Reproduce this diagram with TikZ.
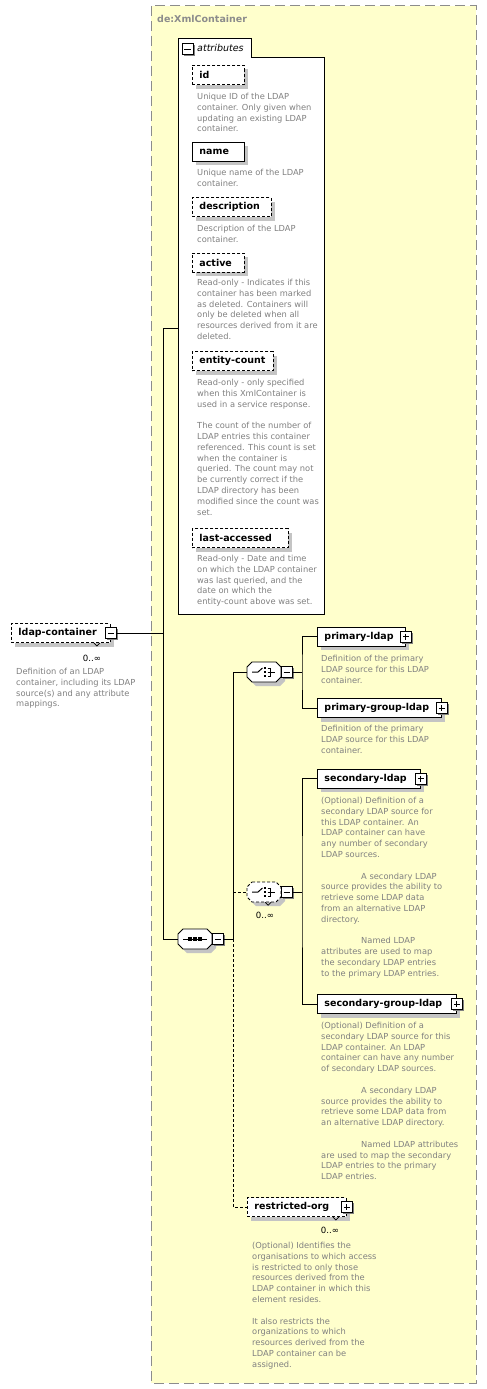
\documentclass[tikz,border=0pt]{standalone}
\usepackage{fontspec}
\setmainfont{DejaVu Sans}
\usetikzlibrary{positioning,calc,shadows}
\definecolor{PanelYellow}{RGB}{255,255,204}
\definecolor{NoteGray}{RGB}{128,128,128}
\definecolor{ShadeGray}{RGB}{196,196,196}
\definecolor{FrameGray}{RGB}{140,140,140}
% octagon outline of a compositor, centred on the origin
\def\octpts{(-12,-10) -- (12,-10) -- (17,-5) -- (17,5) -- (12,10) -- (-12,10) -- (-17,5) -- (-17,-5) -- cycle}
\newcommand\octagon[3]{%
  \fill[ShadeGray,shift={(#1+4,#2+4)}] \octpts;
  \draw[line width=0.9pt,fill=white,shift={(#1,#2)},#3] \octpts;}

\begin{document}
\begin{tikzpicture}[x=1pt,y=-1pt,
    conn/.style={line width=0.9pt},
    opt/.style={dash pattern=on 3pt off 2pt},
    shd/.style={drop shadow={shadow xshift=4pt,shadow yshift=-4pt,fill=ShadeGray,opacity=1}},
    elem/.style={draw,line width=0.9pt,fill=white,shd,anchor=west,align=left,
                 font=\fontsize{9.5}{11}\selectfont\bfseries,inner xsep=7pt,inner ysep=0pt,
                 minimum height=19pt,text width=#1},
    note/.style={anchor=north west,align=left,inner sep=0pt,text=NoteGray,
                 font=\fontsize{8.3}{10.8}\selectfont},
    mult/.style={font=\fontsize{8.6}{10}\selectfont,inner sep=0pt},
    tog/.style={draw,line width=0.9pt,fill=white,minimum size=11pt,inner sep=0pt,
                drop shadow={shadow xshift=1.5pt,shadow yshift=-1.5pt,fill=gray,opacity=1}},
    minus/.style={tog,path picture={
        \draw[line width=0.9pt] ([xshift=2.5pt]path picture bounding box.west)
          -- ([xshift=-2.5pt]path picture bounding box.east);}},
    plus/.style={tog,path picture={
        \draw[line width=0.9pt] ([xshift=2.5pt]path picture bounding box.west)
          -- ([xshift=-2.5pt]path picture bounding box.east)
          ([yshift=-2.5pt]path picture bounding box.north)
          -- ([yshift=2.5pt]path picture bounding box.south);}},
    comp/.style={rectangle,minimum width=34pt,minimum height=20pt,inner sep=0pt},
    seqsym/.style={comp,path picture={
        \begin{scope}[shift={(path picture bounding box.center)}]
          \draw[line width=1pt] (-12,0) -- (12,0);
          \foreach \dx in {-5,0,5} \fill (\dx-1.6,-1.6) rectangle ++(3.2,3.2);
        \end{scope}}},
    chosym/.style={comp,path picture={
        \begin{scope}[shift={(path picture bounding box.center)}]
          \draw[line width=1pt] (-12,0) -- (-6,0) -- (-1.5,-4);
          \foreach \dy in {-4,0,4} \fill (0,\dy-1.1) rectangle ++(2.4,2.4);
          \draw[line width=1pt] (3.5,-4) -- (6.5,-4) -- (6.5,4) -- (3.5,4) (3.5,0) -- (11,0);
        \end{scope}}}
  ]
  \useasboundingbox (0,0) rectangle (487,1389);
  \fill[white] (0,0) rectangle (487,1389);

  % complex type frame
  \draw[FrameGray,line width=1pt,dash pattern=on 10pt off 5pt,fill=PanelYellow]
    (151,6) rectangle (476,1383);
  \node[anchor=west,inner sep=0pt,text=FrameGray,font=\fontsize{9.5}{11}\selectfont\bfseries]
    (ttl) at (157,19) {de:XmlContainer};

  % attributes panel
  \draw[line width=0.9pt,fill=white]
    (178,614) -- (178,38) -- (251,38) -- (251,57) -- (324,57) -- (324,614) -- cycle;
  \node[tog,drop shadow={opacity=0}] (tabm) at (187.5,49) {};
  \draw[line width=0.9pt] ([xshift=2.5pt]tabm.west) -- ([xshift=-2.5pt]tabm.east);
  \node[anchor=west,inner sep=0pt,font=\fontsize{9.5}{11}\selectfont\itshape] (tabl) at (197,48) {attributes};
  \coordinate (attrin) at (178,328);

  \node[elem=38pt,opt] (id) at (192,75) {id};
  \node[note] (idn) at (197,93) {Unique ID of the LDAP\\container. Only given when\\updating an existing LDAP\\container.};
  \node[elem=38pt] (nm) at (192,151.5) {name};
  \node[note] (nmn) at (197,169) {Unique name of the LDAP\\container.};
  \node[elem=65pt,opt] (dsc) at (192,207) {description};
  \node[note] (dscn) at (197,225) {Description of the LDAP\\container.};
  \node[elem=38pt,opt] (act) at (192,262.5) {active};
  \node[note] (actn) at (197,279) {Read-only - Indicates if this\\container has been marked\\as deleted. Containers will\\only be deleted when all\\resources derived from it are\\deleted.};
  \node[elem=67pt,opt] (ent) at (192,361) {entity-count};
  \node[note] (entn) at (197,379) {Read-only - only specified\\when this XmlContainer is\\used in a service response.\\[10.8pt]The count of the number of\\LDAP entries this container\\referenced. This count is set\\when the container is\\queried. The count may not\\be currently correct if the\\LDAP directory has been\\modified since the count was\\set.};
  \node[elem=82pt,opt] (lacc) at (192,538) {last-accessed};
  \node[note] (laccn) at (197,555) {Read-only - Date and time\\on which the LDAP container\\was last queried, and the\\date on which the\\entity-count above was set.};

  % root element
  \node[elem=85pt,opt] (lc) at (11,633) {ldap-container};
  \node[minus] (lcm) at (lc.east) {};
  \draw[line width=0.7pt] ($(lc.south east)+(-17,0)$) -- ++(3,3) -- ++(3,-3);
  \node[mult] (lcmul) at (92,658) {0..∞};
  \node[note] (lcn) at (16,668) {Definition of an LDAP\\container, including its LDAP\\source(s) and any attribute\\mappings.};

  % sequence and choices
  \octagon{195}{939}{}
  \node[seqsym] (seq) at (195,939) {};
  \node[minus] (seqm) at ([xshift=5.5pt]seq.east) {};
  \octagon{264}{672}{}
  \node[chosym] (cho) at (264,672) {};
  \node[minus] (chom) at ([xshift=5.5pt]cho.east) {};
  \octagon{264}{892}{opt}
  \node[chosym] (cho2) at (264,892) {};
  \node[minus] (cho2m) at ([xshift=5.5pt]cho2.east) {};
  \draw[line width=0.7pt] ($(cho2.south east)+(-16,0)$) -- ++(3,3) -- ++(3,-3);
  \node[mult] (cho2mul) at (265,915) {0..∞};

  % child elements
  \node[elem=74pt] (pl) at (317,636.5) {primary-ldap};
  \node[plus] (plp) at (pl.east) {};
  \node[note] (pln) at (321,655) {Definition of the primary\\LDAP source for this LDAP\\container.};
  \node[elem=110pt] (pgl) at (317,708) {primary-group-ldap};
  \node[plus] (pglp) at (pgl.east) {};
  \node[note] (pgln) at (321,725) {Definition of the primary\\LDAP source for this LDAP\\container.};
  \node[elem=89pt] (sl) at (317,778.5) {secondary-ldap};
  \node[plus] (slp) at (sl.east) {};
  \node[note] (sln) at (321,797) {(Optional) Definition of a\\secondary LDAP source for\\this LDAP container. An\\LDAP container can have\\any number of secondary\\LDAP sources.\\[10.8pt]\hspace*{40pt}A secondary LDAP\\source provides the ability to\\retrieve some LDAP data\\from an alternative LDAP\\directory.\\[10.8pt]\hspace*{40pt}Named LDAP\\attributes are used to map\\the secondary LDAP entries\\to the primary LDAP entries.};
  \node[elem=125pt] (sgl) at (317,1004) {secondary-group-ldap};
  \node[plus] (sglp) at (sgl.east) {};
  \node[note] (sgln) at (321,1022) {(Optional) Definition of a\\secondary LDAP source for this\\LDAP container. An LDAP\\container can have any number\\of secondary LDAP sources.\\[10.8pt]\hspace*{40pt}A secondary LDAP\\source provides the ability to\\retrieve some LDAP data from\\an alternative LDAP directory.\\[10.8pt]\hspace*{40pt}Named LDAP attributes\\are used to map the secondary\\LDAP entries to the primary\\LDAP entries.};
  \node[elem=85pt,opt] (ro) at (247,1207) {restricted-org};
  \node[plus] (rop) at (ro.east) {};
  \draw[line width=0.7pt] ($(ro.south east)+(-14,0)$) -- ++(3,3) -- ++(3,-3);
  \node[mult] (romul) at (330,1230) {0..∞};
  \node[note] (ron) at (252,1242) {(Optional) Identifies the\\organisations to which access\\is restricted to only those\\resources derived from the\\LDAP container in which this\\element resides.\\[10.8pt]It also restricts the\\organizations to which\\resources derived from the\\LDAP container can be\\assigned.};

  % connectors
  \coordinate (trunk) at (163,328);
  \draw[conn] (attrin) -- (trunk) |- (seq.west);
  \draw[conn] (lcm.east) -- (lcm.east -| trunk);
  \coordinate (bus) at (233,672);
  \draw[conn] (seqm.east) -| (bus) -- (cho.west);
  \draw[conn,opt] (seqm.east -| bus) |- (ro.west);
  \draw[conn,opt] (cho2.west -| bus) -- (cho2.west);
  \coordinate (fork) at (302,672);
  \draw[conn] (chom.east) -- (fork);
  \draw[conn] (pl.west) -| (fork) |- (pgl.west);
  \coordinate (fork2) at (302,892);
  \draw[conn] (cho2m.east) -- (fork2);
  \draw[conn] (sl.west) -| (fork2) |- (sgl.west);
\end{tikzpicture}
\end{document}
